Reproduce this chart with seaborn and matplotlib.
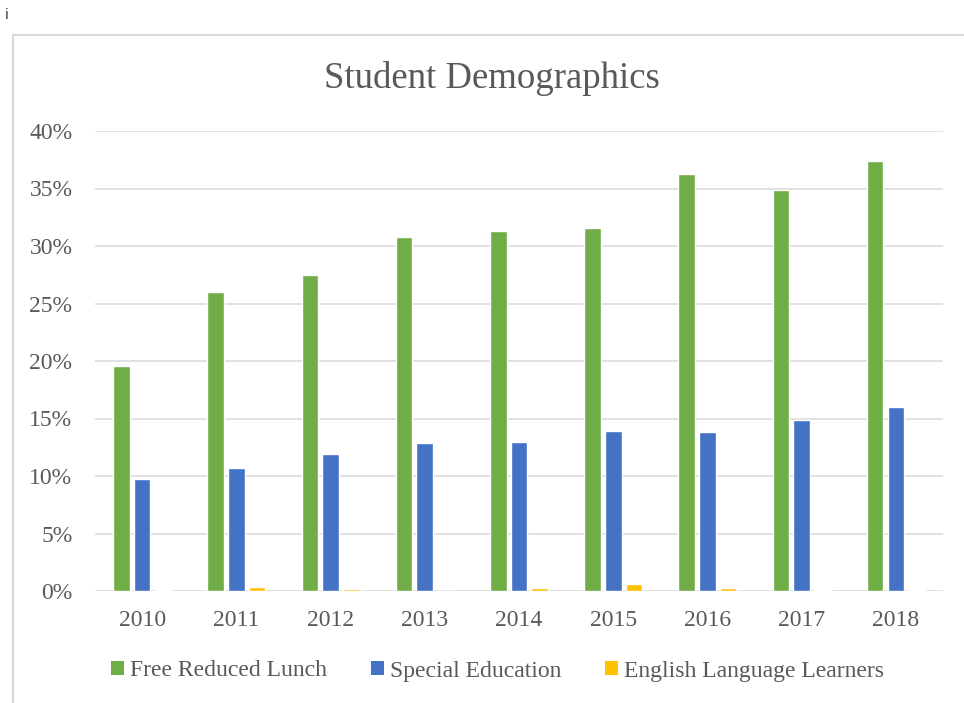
import matplotlib
matplotlib.use("Agg")
import matplotlib.pyplot as plt
import seaborn as sns
import pandas as pd
from matplotlib.patches import Patch
from matplotlib.lines import Line2D
from matplotlib.ticker import FuncFormatter

years = ["2010", "2011", "2012", "2013", "2014", "2015", "2016", "2017", "2018"]
free_reduced_lunch = [19.6, 26.0, 27.5, 30.8, 31.3, 31.6, 36.3, 34.9, 37.4]
special_education = [9.7, 10.7, 11.9, 12.9, 13.0, 13.9, 13.8, 14.9, 16.0]
english_learners = [0.05, 0.35, 0.17, 0.04, 0.3, 0.62, 0.22, 0.1, 0.12]
series_names = ["Free Reduced Lunch", "Special Education", "English Language Learners"]
colors = ["#70AD47", "#4472C4", "#FFC000"]
yticks = [0, 5, 10, 15, 20, 25, 30, 35, 40]

rows = []
for name, vals in zip(series_names, [free_reduced_lunch, special_education, english_learners]):
    for y, v in zip(years, vals):
        rows.append({"Year": y, "Series": name, "Value": v})
df = pd.DataFrame(rows)

sns.set_style("white")
plt.rcParams["font.family"] = ["Liberation Serif", "DejaVu Serif"]

W, H = 964, 703
fig = plt.figure(figsize=(W / 100, H / 100), dpi=100)
ax = fig.add_axes([95 / W, 1 - 591 / H, (943 - 95) / W, (591 - 131) / H])

sns.barplot(data=df, x="Year", y="Value", hue="Series", order=years,
            hue_order=series_names, palette=colors, width=0.66, gap=0.2,
            saturation=1, ax=ax, legend=False, errorbar=None)

ax.set_ylim(0, 40)
ax.set_xlim(-0.5, 8.5)
ax.set_yticks(yticks)
ax.yaxis.set_major_formatter(FuncFormatter(lambda v, p: f"{int(v)}%"))
ax.set_xlabel("")
ax.set_ylabel("")
for s in ax.spines.values():
    s.set_visible(False)
ax.grid(axis="y", color="#D9D9D9", linewidth=1.1)
ax.set_axisbelow(True)
ax.tick_params(axis="both", length=0, labelsize=17, labelcolor="#595959")
ax.tick_params(axis="y", pad=16.2)
ax.tick_params(axis="x", pad=13.5)

fig.text(491.7 / W, 1 - 79 / H, "Student Demographics", ha="center", va="center",
         fontsize=26.5, color="#595959")

handles = [Patch(facecolor=c, edgecolor="none") for c in colors]
fig.legend(handles, series_names, loc="center", bbox_to_anchor=(497.5 / W, 1 - 671 / H),
           ncol=3, frameon=False, fontsize=17, handlelength=0.55, handleheight=0.55,
           handletextpad=0.25, columnspacing=1.85, labelcolor="#595959", borderpad=0)

# chart border
fig.add_artist(Line2D([13 / W, 13 / W, 1.0], [0.0, 1 - 35 / H, 1 - 35 / H],
                      transform=fig.transFigure, color="#D9D9D9", linewidth=1.5))
fig.text(5 / W, 1 - 15 / H, "i", ha="left", va="center", fontsize=10,
         color="#333333", family=["DejaVu Sans"])

fig.savefig("out.png", dpi=100, facecolor="white")
